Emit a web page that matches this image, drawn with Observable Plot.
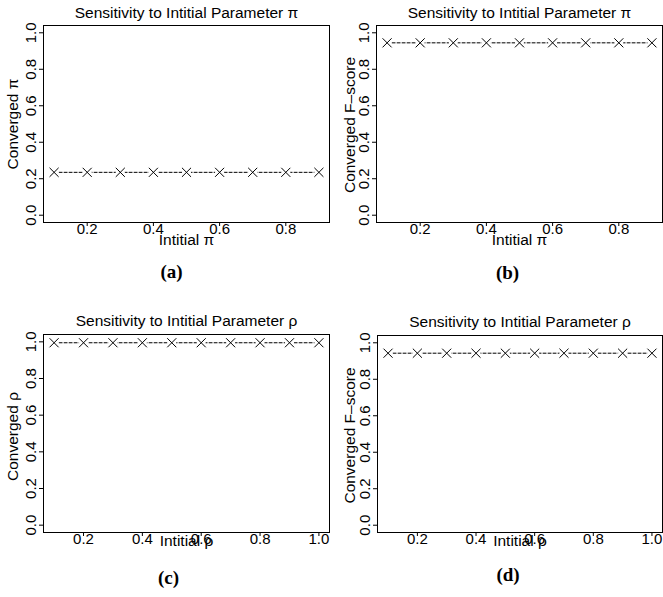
<!DOCTYPE html>
<html><head><meta charset="utf-8">
<script src="https://cdn.jsdelivr.net/npm/d3@7"></script>
<script src="https://cdn.jsdelivr.net/npm/@observablehq/plot@0.6"></script>
<style>
html,body{margin:0;padding:0;background:#fff;}
#wrap{position:relative;width:663px;height:597px;overflow:hidden;background:#fff;}
#wrap > div{position:absolute;}
</style></head><body><div id="wrap"></div>
<script>
// ---- data ----
const initialPi = [0.1, 0.2, 0.3, 0.4, 0.5, 0.6, 0.7, 0.8, 0.9];
const convergedPi = [0.235, 0.235, 0.235, 0.235, 0.235, 0.235, 0.235, 0.235, 0.235];
const fscorePi = [0.945, 0.945, 0.945, 0.945, 0.945, 0.945, 0.945, 0.945, 0.945];
const initialRho = [0.1, 0.2, 0.3, 0.4, 0.5, 0.6, 0.7, 0.8, 0.9, 1.0];
const convergedRho = [0.995, 0.995, 0.995, 0.995, 0.995, 0.995, 0.995, 0.995, 0.995, 0.995];
const fscoreRho = [0.943, 0.943, 0.943, 0.943, 0.943, 0.943, 0.943, 0.943, 0.943, 0.943];
const yTicks = [0.0, 0.2, 0.4, 0.6, 0.8, 1.0];
const xTicksPi = [0.2, 0.4, 0.6, 0.8];
const xTicksRho = [0.2, 0.4, 0.6, 0.8, 1.0];
const titlePi = "Sensitivity to Intitial Parameter \u03c0";
const titleRho = "Sensitivity to Intitial Parameter \u03c1";
const xLabelPi = "Intitial \u03c0";
const xLabelRho = "Intitial \u03c1";
const yLabels = ["Converged \u03c0", "Converged F\u2013score", "Converged \u03c1", "Converged F\u2013score"];
const captions = ["(a)", "(b)", "(c)", "(d)"];

const SANS = "'Liberation Sans', Arial, Helvetica, sans-serif";
const SERIF = "'Liberation Serif', 'Times New Roman', serif";

function panel(o) {
  const rows = o.xs.map((x, i) => ({x, y: o.ys[i]}));
  const chart = Plot.plot({
    width: o.width, height: o.height,
    marginTop: o.m[0], marginRight: o.m[1], marginBottom: o.m[2], marginLeft: o.m[3],
    style: {fontFamily: SANS, fontSize: "15px", color: "black", background: "transparent", overflow: "visible"},
    x: {domain: o.xDomain, label: null},
    y: {domain: [-0.04, 1.04], label: null},
    marks: [
      Plot.frame({stroke: "black", strokeWidth: 1}),
      Plot.axisY({ticks: yTicks, tickSize: 4, tickFormat: () => "", label: null, stroke: "black"}),
      Plot.text(yTicks, {y: d => d, text: d => d.toFixed(1), frameAnchor: "left", dx: o.ytdx, rotate: -90,
        textAnchor: "middle", lineAnchor: "middle", fontSize: 15, fill: "black"}),
      Plot.axisX({ticks: o.xTicks, tickSize: 4, tickPadding: -3, tickFormat: d => d.toFixed(1), label: null,
        fontSize: 15, stroke: "black", fill: "black"}),
      Plot.line(rows, {x: "x", y: "y", stroke: "black", strokeWidth: 1, strokeDasharray: "3,2"}),
      Plot.dot(rows, {x: "x", y: "y", r: 4.5, fill: "white", stroke: "none"}),
      Plot.dot(rows, {x: "x", y: "y", symbol: "times", r: 4.2, stroke: "black", strokeWidth: 1}),
      Plot.text([o.title], {text: d => d, frameAnchor: "top", dy: o.tdy, fontSize: 15.5, lineAnchor: "middle", fill: "black"}),
      Plot.text([o.xLabel], {text: d => d, frameAnchor: "bottom", dy: o.xldy, fontSize: 15.5, lineAnchor: "middle", fill: "black"}),
      Plot.text([o.yLabel], {text: d => d, frameAnchor: "left", dx: o.yldx, dy: o.yldy, rotate: -90, fontSize: 15.5,
        textAnchor: "middle", lineAnchor: "middle", fill: "black"}),
      Plot.text([o.caption], {text: d => d, frameAnchor: "bottom", dx: o.cdx, dy: o.cdy, fontFamily: SERIF,
        fontWeight: "bold", fontSize: 19, lineAnchor: "middle", fill: "black"})
    ]
  });
  const div = document.createElement("div");
  div.style.left = o.left + "px";
  div.style.top = o.top + "px";
  div.appendChild(chart);
  document.getElementById("wrap").appendChild(div);
}

panel({left: 0, top: 0, width: 331, height: 298, m: [25, 2, 76, 43],
  xs: initialPi, ys: convergedPi, xDomain: [0.068, 0.932], xTicks: xTicksPi,
  title: titlePi, xLabel: xLabelPi, yLabel: yLabels[0], caption: captions[0],
  ytdx: -12, tdy: -12, xldy: 17.5, yldx: -30.5, yldy: 0, cdx: -15, cdy: 49});
panel({left: 331, top: 0, width: 332, height: 298, m: [25, 1, 76, 45],
  xs: initialPi, ys: fscorePi, xDomain: [0.068, 0.932], xTicks: xTicksPi,
  title: titlePi, xLabel: xLabelPi, yLabel: yLabels[1], caption: captions[1],
  ytdx: -12.5, tdy: -12, xldy: 17.5, yldx: -26, yldy: 1, cdx: -12, cdy: 50});
panel({left: 0, top: 298, width: 331, height: 299, m: [36, 2, 65, 43],
  xs: initialRho, ys: convergedRho, xDomain: [0.064, 1.036], xTicks: xTicksRho,
  title: titleRho, xLabel: xLabelRho, yLabel: yLabels[2], caption: captions[2],
  ytdx: -12, tdy: -13.5, xldy: 8.5, yldx: -30.5, yldy: 3, cdx: -18, cdy: 45});
panel({left: 331, top: 298, width: 332, height: 299, m: [37, 1, 65, 46],
  xs: initialRho, ys: fscoreRho, xDomain: [0.064, 1.036], xTicks: xTicksRho,
  title: titleRho, xLabel: xLabelRho, yLabel: yLabels[3], caption: captions[3],
  ytdx: -12.5, tdy: -13.5, xldy: 8.5, yldx: -27, yldy: 1.5, cdx: -12, cdy: 42});
</script>
</body></html>
